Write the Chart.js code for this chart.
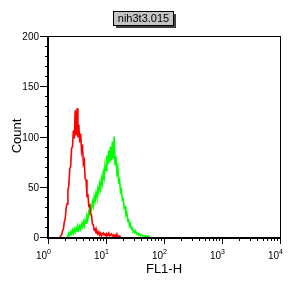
<!DOCTYPE html>
<html>
<head>
<meta charset="utf-8">
<script src="https://cdn.jsdelivr.net/npm/chart.js@4.4.0/dist/chart.umd.min.js"></script>
<style>
  body { margin: 0; background: #fff; }
  canvas { display: block; }
</style>
</head>
<body>
<canvas id="histo" width="288" height="288"></canvas>
<script>
// Textes du graphique
const titre = 'nih3t3.015';
const titreX = 'FL1-H';
const titreY = 'Count';

// Histogramme : 1024 canaux sur 4 décades, regroupés par 4 canaux
const largeurCanal = 4;
const canauxParDecade = 256;

const debutRouge = 52;
const comptesRouge = [0, 1, 2, 6, 8, 15, 18, 29, 33, 47,
  51, 68, 70, 88, 90, 106, 98, 126, 101, 128,
  99, 112, 94, 103, 86, 92, 73, 76, 58, 57,
  41, 42, 31, 32, 23, 22, 13, 12, 7, 8,
  4, 6, 3, 5, 2, 4, 1, 3, 4, 2,
  3, 1, 3, 2, 4, 1, 2, 3, 1, 2,
  0, 2, 1, 3, 0, 1, 1, 0];

const debutVert = 84;
const comptesVert = [2, 1, 4, 2, 5, 3, 7, 4, 8, 5,
  9, 6, 10, 7, 11, 8, 13, 10, 15, 11,
  17, 14, 21, 18, 25, 22, 30, 27, 35, 31,
  40, 36, 44, 40, 48, 44, 53, 48, 58, 53,
  64, 59, 72, 66, 81, 72, 86, 74, 90, 76,
  95, 78, 100, 72, 80, 64, 69, 55, 57, 45,
  47, 37, 38, 29, 30, 22, 24, 16, 17, 11,
  13, 8, 9, 5, 6, 4, 5, 3, 4, 2,
  3, 1, 2, 2, 1, 1, 0, 1, 1, 0,
  1, 0];

// Graduations
const decades = [1, 10, 100, 1000, 10000];
const exposants = ['0', '1', '2', '3', '4'];
const graduationsY = [0, 50, 100, 150, 200];

const police = 'Arial, "Liberation Sans", sans-serif';

function versPoints(debut, comptes) {
  return comptes.map((c, i) => ({
    x: Math.pow(10, (debut + i * largeurCanal) / canauxParDecade),
    y: c
  }));
}

// Dessine le cadre, les graduations, les textes et l'étiquette du titre
const cadre = {
  id: 'cadre',
  afterDraw(chart) {
    const ctx = chart.ctx;
    const a = chart.chartArea;
    const sx = chart.scales.x;
    const sy = chart.scales.y;
    ctx.save();
    ctx.strokeStyle = '#000';
    ctx.fillStyle = '#000';

    ctx.lineWidth = 1;
    ctx.strokeRect(a.left + 0.5, a.top + 0.5, a.right - a.left, a.bottom - a.top);

    ctx.lineWidth = 2;
    ctx.beginPath();
    ctx.moveTo(a.left, a.top);
    ctx.lineTo(a.left, a.bottom + 2);
    ctx.moveTo(a.left - 1, a.bottom + 1);
    ctx.lineTo(a.right + 1, a.bottom + 1);
    ctx.stroke();

    // Axe Y
    ctx.lineWidth = 1;
    ctx.beginPath();
    for (let v = 0; v <= 200; v += 10) {
      const y = Math.round(sy.getPixelForValue(v)) + 0.5;
      const long = v % 50 === 0 ? 8 : 3;
      ctx.moveTo(a.left - long, y);
      ctx.lineTo(a.left, y);
    }
    ctx.stroke();
    ctx.font = '10px ' + police;
    ctx.textAlign = 'right';
    ctx.textBaseline = 'middle';
    graduationsY.forEach(v => {
      ctx.fillText(String(v), a.left - 9, Math.round(sy.getPixelForValue(v)) + 1);
    });

    // Axe X logarithmique
    ctx.beginPath();
    decades.forEach((d, i) => {
      const x = Math.round(sx.getPixelForValue(d)) + 0.5;
      ctx.moveTo(x, a.bottom + 2);
      ctx.lineTo(x, a.bottom + 7);
      if (i < decades.length - 1) {
        for (let k = 2; k <= 9; k++) {
          const xm = Math.round(sx.getPixelForValue(k * d)) + 0.5;
          ctx.moveTo(xm, a.bottom + 2);
          ctx.lineTo(xm, a.bottom + 4);
        }
      }
    });
    ctx.stroke();
    ctx.textBaseline = 'alphabetic';
    decades.forEach((d, i) => {
      const x = Math.round(sx.getPixelForValue(d));
      ctx.textAlign = 'right';
      ctx.font = '10px ' + police;
      ctx.fillText('10', x - 1, 259);
      ctx.textAlign = 'left';
      ctx.font = '7px ' + police;
      ctx.fillText(exposants[i], x - 1, 254);
    });

    // Titres des axes
    ctx.font = '13px ' + police;
    ctx.textAlign = 'center';
    ctx.textBaseline = 'middle';
    ctx.fillText(titreX, 164, 269);
    ctx.save();
    ctx.translate(17, 136);
    ctx.rotate(-Math.PI / 2);
    ctx.fillText(titreY, 0, 0);
    ctx.restore();

    // Étiquette du titre avec ombre
    ctx.fillStyle = '#404040';
    ctx.fillRect(116, 14, 60, 14);
    ctx.fillStyle = '#c4c4c4';
    ctx.fillRect(113, 11, 61, 15);
    ctx.strokeRect(113.5, 11.5, 60, 14);
    ctx.fillStyle = '#000';
    ctx.font = '11px ' + police;
    ctx.fillText(titre, 143.5, 19);

    ctx.restore();
  }
};

new Chart(document.getElementById('histo'), {
  type: 'line',
  data: {
    datasets: [
      {
        label: 'rouge',
        data: versPoints(debutRouge, comptesRouge),
        borderColor: '#ff0000',
        borderWidth: 1.6,
        pointRadius: 0,
        tension: 0
      },
      {
        label: 'vert',
        data: versPoints(debutVert, comptesVert),
        borderColor: '#00ff00',
        borderWidth: 1.6,
        pointRadius: 0,
        tension: 0
      }
    ]
  },
  options: {
    responsive: false,
    animation: false,
    layout: { padding: { left: 48, top: 36, right: 8, bottom: 51 } },
    plugins: {
      legend: { display: false },
      tooltip: { enabled: false }
    },
    scales: {
      x: { type: 'logarithmic', min: 1, max: 10000, display: false },
      y: { type: 'linear', min: 0, max: 200, display: false }
    }
  },
  plugins: [cadre]
});
</script>
</body>
</html>
